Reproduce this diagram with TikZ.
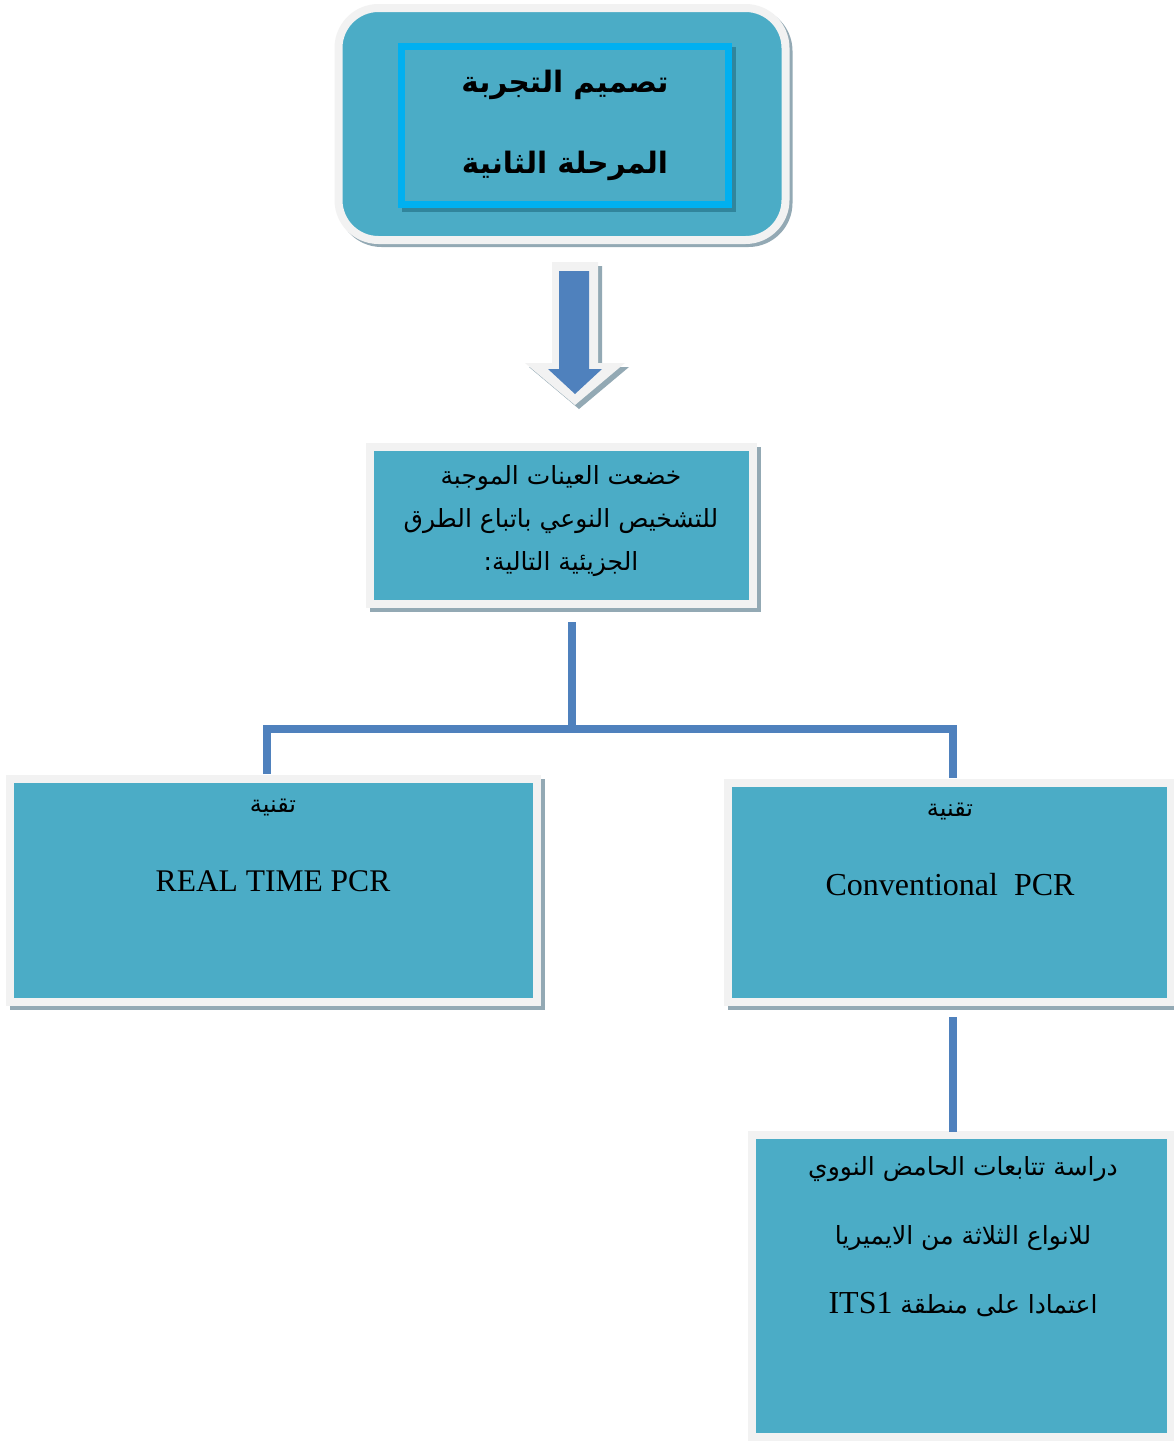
\documentclass[tikz,border=0pt]{standalone}
\usepackage{fontspec}
\setmainfont{Liberation Serif}
\newfontfamily\arabicfont[Script=Arabic]{DejaVu Sans}
\TeXXeTstate=1
\definecolor{boxteal}{HTML}{4BACC6}
\definecolor{bordergray}{HTML}{F2F2F2}
\definecolor{shadowc}{HTML}{93A9B4}
\definecolor{cyanb}{HTML}{00B0F0}
\definecolor{darkteal}{HTML}{31859C}
\definecolor{connblue}{HTML}{4F81BD}
\begin{document}
\begin{tikzpicture}[x=1pt,y=-1pt,
  box/.style={draw=bordergray, line width=8pt, fill=boxteal, inner sep=0pt,
    preaction={draw=shadowc, fill=shadowc, line width=8pt,
      transform canvas={xshift=4pt,yshift=-4pt}}},
  conn/.style={draw=connblue, line width=8pt},
  ar/.style={font=\arabicfont, text=black, align=center}
]
\useasboundingbox[fill=white] (0,0) rectangle (1174,1441);

% top rounded box
\node[draw=bordergray, line width=8pt, fill=boxteal, rounded corners=40pt,
  minimum width=447pt, minimum height=232pt,
  preaction={draw=shadowc, line width=8pt, transform canvas={xshift=3pt,yshift=-3pt}}]
  (topbox) at (562,124) {};
\node[draw=cyanb, line width=7pt, fill=boxteal, minimum width=327pt, minimum height=158pt,
  preaction={draw=darkteal, fill=darkteal, line width=7pt, transform canvas={xshift=4pt,yshift=-4pt}},
  font=\arabicfont\bfseries\fontsize{29.5}{81}\selectfont, align=center]
  (title) at (565,125.5) {\beginR تصميم التجربة\endR\\\beginR المرحلة الثانية\endR};

% arrow
\fill[shadowc] (556,266) -- (602,266) -- (602,367) -- (629,367) -- (579,409) -- (529,367) -- (556,367) -- cycle;
\fill[bordergray] (552,262) -- (598,262) -- (598,363) -- (625,363) -- (575,405) -- (525,363) -- (552,363) -- cycle;
\fill[connblue] (559,271) -- (589,271) -- (589,369) -- (602,369) -- (575,394) -- (548,369) -- (559,369) -- cycle;

% middle box
\node[box, minimum width=383pt, minimum height=157pt] (mid) at (561.5,525.5) {};
\node[ar, font=\arabicfont\fontsize{25}{43}\selectfont] (midtxt) at (561,521)
  {\beginR خضعت العينات الموجبة\endR\\\beginR للتشخيص النوعي باتباع الطرق\endR\\\beginR الجزيئية التالية:\endR};

% left box
\node[box, minimum width=527pt, minimum height=223pt] (left) at (273,890) {};
\node[ar, font=\arabicfont\fontsize{24}{28}\selectfont] (lefta) at (273,808) {\beginR تقنية\endR};
\node[font=\fontsize{31.5}{36}\selectfont] (leftb) at (273,881) {REAL TIME PCR};

% right box
\node[box, minimum width=443pt, minimum height=219pt] (right) at (949.5,892.5) {};
\node[ar, font=\arabicfont\fontsize{24}{28}\selectfont] (righta) at (950,812) {\beginR تقنية\endR};
\node[font=\fontsize{32}{36}\selectfont] (rightb) at (950,885) {Conventional\ \ PCR};

% bottom box
\node[box, minimum width=419pt, minimum height=301.5pt] (bottom) at (961.5,1286) {};
\node[ar, font=\arabicfont\fontsize{25}{69}\selectfont] (bottomtxt) at (963,1237)
  {\beginR دراسة تتابعات الحامض النووي\endR\\\beginR للانواع الثلاثة من الايميريا\endR\\\beginR اعتمادا على منطقة \beginL{\rmfamily\fontsize{32}{69}\selectfont ITS1}\endL\endR};

% connectors
\coordinate (m0) at (572,622);
\coordinate (j) at (572,729);
\coordinate (lt) at (267,774);
\coordinate (rt) at (952.5,778);
\coordinate (rb0) at (952.5,1017);
\coordinate (rb1) at (952.5,1132);
\draw[conn] (m0) -- (j);
\draw[conn] (lt) |- (j) -| (rt);
\draw[conn] (rb0) -- (rb1);
\end{tikzpicture}
\end{document}
